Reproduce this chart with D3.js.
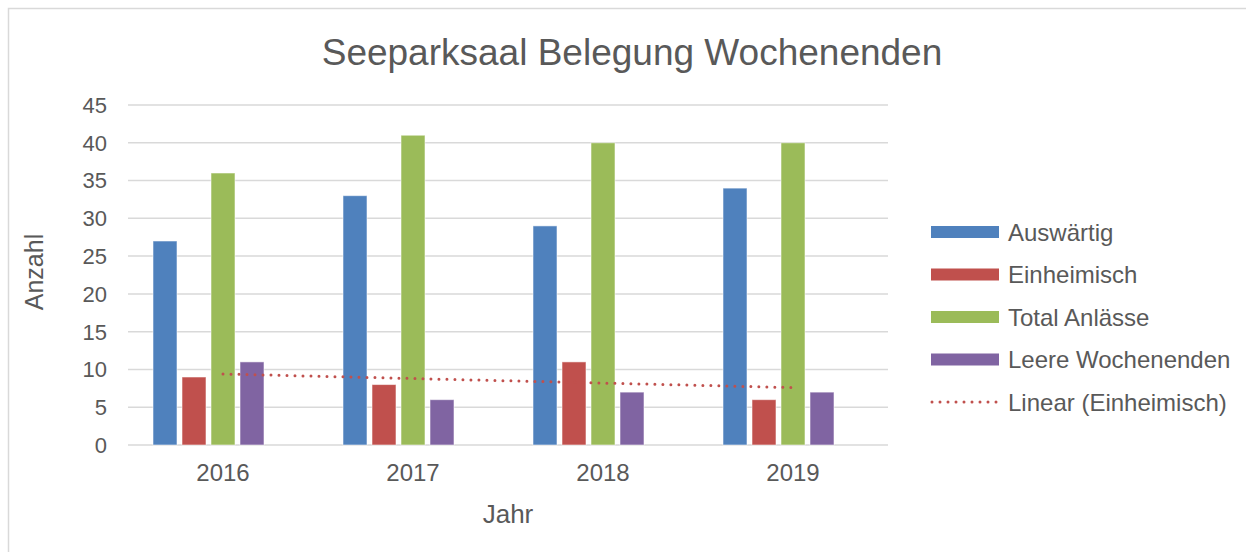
<!DOCTYPE html>
<html>
<head>
<meta charset="utf-8">
<script src="https://cdn.jsdelivr.net/npm/d3@7"></script>
<style>
  body { margin: 0; background: #fff; }
  svg text { font-family: "Liberation Sans", Arial, sans-serif; fill: #595959; }
</style>
</head>
<body>
<svg id="chart" width="1246" height="552"></svg>
<script>
// data
var years = ["2016", "2017", "2018", "2019"];
var auswaertig = [27, 33, 29, 34];
var einheimisch = [9, 8, 11, 6];
var totalAnlaesse = [36, 41, 40, 40];
var leereWochenenden = [11, 6, 7, 7];
var yTicks = [0, 5, 10, 15, 20, 25, 30, 35, 40, 45];

var seriesNames = ["Auswärtig", "Einheimisch", "Total Anlässe", "Leere Wochenenden"];
var seriesValues = [auswaertig, einheimisch, totalAnlaesse, leereWochenenden];
var colors = ["#4f81bd", "#c0504d", "#9bbb59", "#8064a2"];
var trendName = "Linear (Einheimisch)";

var svg = d3.select("#chart");

// outer frame (runs off the right and bottom edge)
svg.append("rect")
  .attr("x", 8.5).attr("y", 8.5)
  .attr("width", 1260).attr("height", 560)
  .attr("fill", "#fff")
  .attr("stroke", "#d9d9d9")
  .attr("stroke-width", 1.5);

var x0 = d3.scaleBand().domain(years).range([128, 888]);
// five slots per year, the last one stays empty (like the original)
var x1 = d3.scaleBand()
  .domain(d3.range(5))
  .range([x0.bandwidth() / 2 - 72.5, x0.bandwidth() / 2 + 72.5])
  .paddingInner(5 / 29)
  .paddingOuter(2.5 / 29);
var y = d3.scaleLinear().domain([0, 45]).range([445, 105]);

// gridlines
svg.append("g")
  .selectAll("line")
  .data(yTicks)
  .enter().append("line")
  .attr("x1", 128).attr("x2", 888)
  .attr("y1", function (d) { return y(d); })
  .attr("y2", function (d) { return y(d); })
  .attr("stroke", "#d9d9d9")
  .attr("stroke-width", 1.5);

// y tick labels
svg.append("g")
  .selectAll("text")
  .data(yTicks)
  .enter().append("text")
  .attr("x", 107)
  .attr("y", function (d) { return y(d); })
  .attr("dy", "0.36em")
  .attr("text-anchor", "end")
  .attr("font-size", 22)
  .text(function (d) { return d; });

// x tick labels
svg.append("g")
  .selectAll("text")
  .data(years)
  .enter().append("text")
  .attr("x", function (d) { return x0(d) + x0.bandwidth() / 2; })
  .attr("y", 481)
  .attr("text-anchor", "middle")
  .attr("font-size", 24)
  .text(function (d) { return d; });

// bars
var groups = svg.append("g")
  .selectAll("g")
  .data(years)
  .enter().append("g")
  .attr("transform", function (d) { return "translate(" + x0(d) + ",0)"; });

groups.selectAll("rect")
  .data(function (d, i) {
    return seriesValues.map(function (vals, s) { return { s: s, v: vals[i] }; });
  })
  .enter().append("rect")
  .attr("x", function (d) { return x1(d.s); })
  .attr("width", x1.bandwidth())
  .attr("y", function (d) { return y(d.v); })
  .attr("height", function (d) { return y(0) - y(d.v); })
  .attr("fill", function (d) { return colors[d.s]; })
  .attr("stroke", "rgba(255,255,255,0.55)")
  .attr("stroke-width", 1);

// linear trend of Einheimisch
var xs = einheimisch.map(function (d, i) { return i + 1; });
var mx = d3.mean(xs), my = d3.mean(einheimisch);
var slope = d3.sum(xs, function (xv, i) { return (xv - mx) * (einheimisch[i] - my); }) /
            d3.sum(xs, function (xv) { return (xv - mx) * (xv - mx); });
var trend = years.map(function (yr, i) { return { x: yr, v: my + slope * (i + 1 - mx) }; });

svg.append("path")
  .datum([trend[0], trend[trend.length - 1]])
  .attr("d", d3.line()
    .x(function (d) { return x0(d.x) + x0.bandwidth() / 2; })
    .y(function (d) { return y(d.v); }))
  .attr("fill", "none")
  .attr("stroke", "#c0504d")
  .attr("stroke-width", 3)
  .attr("stroke-linecap", "round")
  .attr("stroke-dasharray", "0 8");

// title and axis titles
svg.append("text")
  .attr("x", 632).attr("y", 65)
  .attr("text-anchor", "middle")
  .attr("font-size", 37)
  .text("Seeparksaal Belegung Wochenenden");

svg.append("text")
  .attr("transform", "translate(43,272) rotate(-90)")
  .attr("text-anchor", "middle")
  .attr("font-size", 25)
  .text("Anzahl");

svg.append("text")
  .attr("x", 508).attr("y", 523)
  .attr("text-anchor", "middle")
  .attr("font-size", 26)
  .text("Jahr");

// legend
var legendY = d3.scalePoint()
  .domain(seriesNames.concat([trendName]))
  .range([232, 402]);

var legend = svg.append("g");
seriesNames.forEach(function (name, i) {
  legend.append("rect")
    .attr("x", 931).attr("y", legendY(name) - 6)
    .attr("width", 68).attr("height", 12)
    .attr("fill", colors[i]);
  legend.append("text")
    .attr("x", 1008).attr("y", legendY(name))
    .attr("dy", "0.36em")
    .attr("font-size", 24)
    .text(name);
});
legend.append("line")
  .attr("x1", 932).attr("x2", 997)
  .attr("y1", legendY(trendName)).attr("y2", legendY(trendName))
  .attr("stroke", "#c0504d")
  .attr("stroke-width", 3)
  .attr("stroke-linecap", "round")
  .attr("stroke-dasharray", "0 8");
legend.append("text")
  .attr("x", 1008).attr("y", legendY(trendName))
  .attr("dy", "0.36em")
  .attr("font-size", 24)
  .text(trendName);
</script>
</body>
</html>
